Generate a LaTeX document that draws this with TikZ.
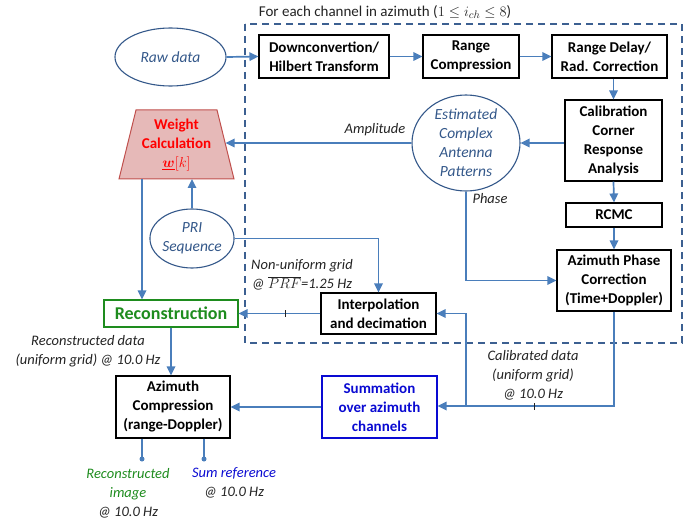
\documentclass[tikz,border=0pt]{standalone}
\usepackage{fontspec}
\setmainfont{Carlito}
\usepackage{amsmath}
\usetikzlibrary{arrows.meta,shapes.geometric,calc}
\definecolor{connc}{RGB}{74,126,187}
\definecolor{ellc}{RGB}{52,88,138}
\definecolor{dashc}{RGB}{60,96,145}
\definecolor{txtc}{RGB}{35,35,35}
\definecolor{grn}{RGB}{30,140,30}
\definecolor{blu}{RGB}{10,10,210}
\definecolor{wcfill}{RGB}{230,185,184}
\definecolor{wcline}{RGB}{192,80,77}
\tikzset{
  box/.style={draw=black, line width=1.1pt, fill=white, align=center, inner sep=0pt,
    font=\bfseries\fontsize{15}{19}\selectfont, text=black},
  ell/.style={ellipse, draw=ellc, line width=1.1pt, fill=white, text=ellc, align=center, inner sep=0pt,
    font=\itshape\fontsize{15.5}{19}\selectfont},
  conn/.style={draw=connc, line width=1.7pt, -{Triangle[length=9pt,width=8.5pt]}},
  plain/.style={draw=connc, line width=1.7pt},
  lbl/.style={font=\itshape\fontsize{14.5}{19}\selectfont, text=txtc, align=center, inner sep=0pt},
  tick/.style={draw=txtc, line width=1pt},
  dot/.style={circle, fill=connc, inner sep=0pt, minimum size=5pt}
}
\begin{document}
\begin{tikzpicture}[x=1pt,y=-1pt]
\useasboundingbox (0,0) rectangle (697,524);
% dashed frame
\draw[dashc, line width=1.3pt, dash pattern=on 7pt off 5pt] (245,24) rectangle (682,343);
\node[font=\fontsize{15}{16}\selectfont, text=txtc, inner sep=0pt] (title) at (385,12)
  {For each channel in azimuth ($1 \leq i_{ch} \leq 8$)};

% nodes
\node[ell, minimum width=111pt, minimum height=58pt] (raw) at (170.5,57) {Raw data};
\node[box, minimum width=130pt, minimum height=43pt] (dc) at (324,56.5) {Downconvertion/\\Hilbert Transform};
\node[box, minimum width=96pt, minimum height=43pt] (rc) at (471,56.5) {Range\\Compression};
\node[box, minimum width=115pt, minimum height=43pt] (rd) at (609.5,56.5) {Range Delay/\\Rad. Correction};
\node[box, minimum width=97pt, minimum height=81pt] (cal) at (613.5,140.5) {Calibration\\Corner\\Response\\Analysis};
\node[ell, minimum width=108pt, minimum height=94pt] (est) at (466,143) {Estimated\\Complex\\Antenna\\Patterns};
\node[box, minimum width=96pt, minimum height=24pt] (rcmc) at (614,215) {RCMC};
\node[box, minimum width=114pt, minimum height=61pt] (apc) at (614,280.5) {Azimuth Phase\\Correction\\(Time+Doppler)};
\node[ell, minimum width=72pt, minimum height=59pt] (pri) at (192,238.5) {PRI\\Sequence};
\node[box, draw=grn, text=grn, minimum width=134pt, minimum height=27pt, font=\bfseries\fontsize{18}{19}\selectfont] (rec) at (171,313.5) {Reconstruction};
\node[box, minimum width=115pt, minimum height=41pt] (int) at (378.5,313.5) {Interpolation\\and decimation};
\node[box, draw=blu, text=blu, minimum width=115pt, minimum height=62pt] (sum) at (379.5,407) {Summation\\over azimuth\\channels};
\node[box, minimum width=114pt, minimum height=62pt] (az) at (173,407) {Azimuth\\Compression\\(range-Doppler)};

% weight calculation trapezoid
\coordinate (wtl) at (136,110);
\coordinate (wtr) at (217,110);
\coordinate (wbr) at (234,179);
\coordinate (wbl) at (119,179);
\draw[wcline, fill=wcfill, line width=1pt] (wtl) -- (wtr) -- (wbr) -- (wbl) -- cycle;
\node[align=center, text=red, inner sep=0pt, font=\bfseries\fontsize{15}{19}\selectfont] (wc) at (176.5,145)
  {Weight\\Calculation\\$\underline{\boldsymbol{w}}[k]$};
\coordinate (wcR) at (225.5,143);
\coordinate (wcPRI) at (192,179);
\coordinate (wcL) at (142,179);

% connectors
\draw[conn] (raw.east) -- (dc.west);
\draw[conn] (dc.east) -- (rc.west);
\draw[conn] (rc.east) -- (rd.west);
\draw[conn] (rd.south -| cal.north) -- (cal.north);
\draw[conn] (cal.west |- est.east) -- (est.east);
\draw[conn] (est.west) -- (wcR);
\draw[conn] (cal.south) -- (rcmc.north);
\draw[conn] (rcmc.south) -- (apc.north);
\draw[conn] (est.south) -- (est.south |- apc.west) -- (apc.west);
\draw[conn] (pri.north) -- (wcPRI);
\draw[conn] (wcL) -- (wcL |- rec.north);
\draw[conn] (pri.east) -- (int.north |- pri.east) -- (int.north);
\draw[conn] (int.west) -- (rec.east);
\draw[tick] (285,310) -- (285,317);
\coordinate (split) at (466,406);
\draw[conn] (apc.south) -- (apc.south |- split) -- (sum.east |- split);
\draw[conn] (split) -- (split |- int.east) -- (int.east);
\draw[tick] (534,403) -- (534,410);
\draw[conn] (sum.west) -- (az.east);
\draw[conn] (rec.south) -- (rec.south |- az.north);
\coordinate (o1) at (142,459);
\coordinate (o2) at (204,459);
\draw[plain] (o1 |- az.south) -- (o1);
\draw[plain] (o2 |- az.south) -- (o2);
\node[dot] at (o1) {};
\node[dot] at (o2) {};

% labels
\node[lbl] (lamp) at (375,130) {Amplitude};
\node[lbl] (lph) at (490,199) {Phase};
\node[lbl] (lnu) at (302,275) {Non-uniform grid\\@ $\overline{PRF}$=1.25 Hz};
\node[lbl] (lrd) at (88,351.5) {Reconstructed data\\(uniform grid) @ 10.0 Hz};
\node[lbl] (lcd) at (533,375) {Calibrated data\\(uniform grid)\\@ 10.0 Hz};
\node[lbl] (lri) at (128,493) {\textcolor{grn}{Reconstructed}\\\textcolor{grn}{image}\\@ 10.0 Hz};
\node[lbl] (lsr) at (234,483) {\textcolor{blu}{Sum reference}\\@ 10.0 Hz};
\end{tikzpicture}
\end{document}
